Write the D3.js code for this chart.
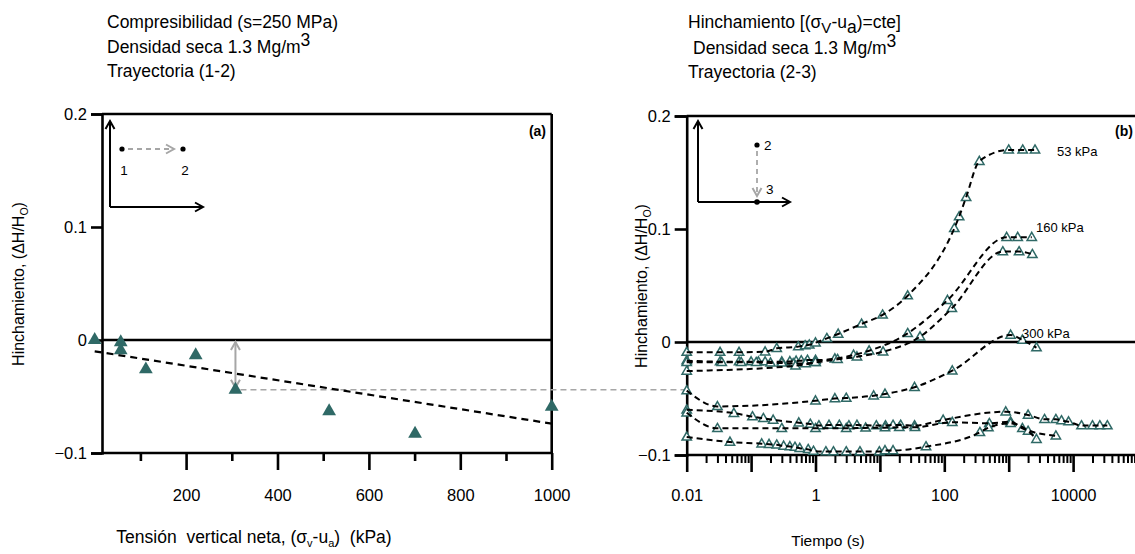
<!DOCTYPE html>
<html><head><meta charset="utf-8">
<script src="https://cdn.jsdelivr.net/npm/d3@7/dist/d3.min.js"></script>
<style>body{margin:0;background:#fff}svg{display:block}text{font-family:"Liberation Sans",Arial,sans-serif;fill:#000;white-space:pre}</style>
</head><body>
<svg id="c" width="1135" height="554"></svg>
<script>
// ---------- DATA ----------
// Panel (a): compressibility
const leftX = [0, 57, 57, 112, 221, 308, 513, 701, 1000];
const leftY = [0, -0.002, -0.009, -0.026, -0.0135, -0.044, -0.063, -0.083, -0.059];
const fitX = [0, 1000];
const fitY = [-0.010, -0.074];
const leftMajorTicks = [200, 400, 600, 800, 1000];
const leftMinorTicks = [100, 300, 500, 700, 900];
const yTicks = [-0.1, 0, 0.1, 0.2];
// Panel (b): swelling vs time
const tA = [0.01,0.033,0.065,0.165,0.25,0.54,0.69,0.8,1.0,1.5,2.25,5.2,11,27,143,170,218,350,1000,1650,2560];
const vA = [-0.009,-0.009,-0.009,-0.0086,-0.0056,-0.0041,-0.0032,-0.0025,-0.0006,0.0032,0.0071,0.016,0.024,0.041,0.1006,0.111,0.128,0.160,0.170,0.170,0.170];
const tB = [0.01,0.033,0.065,0.1,0.13,0.165,0.3,0.4,0.5,0.6,0.75,1.0,2.0,3.9,6.8,27,112,930,1380,2280];
const vB = [-0.0165,-0.0174,-0.0174,-0.0174,-0.0174,-0.0174,-0.0174,-0.0172,-0.0168,-0.0165,-0.016,-0.016,-0.0148,-0.0115,-0.0077,0.0077,0.037,0.0927,0.0927,0.0927];
const tC = [0.01,0.035,0.07,0.12,0.2,0.3,0.45,0.7,1.0,2.2,4.4,11.2,42,131,810,1450,2330];
const vC = [-0.018,-0.018,-0.018,-0.018,-0.0185,-0.0185,-0.019,-0.019,-0.018,-0.0153,-0.013,-0.0086,0.0047,0.0298,0.080,0.080,0.0776];
const tD = [0.01,0.49,1.0];
const vD = [-0.0257,-0.021,-0.018];
const tP = [0.01,0.03,1.0,2.0,3.0,8,12,34.5,133,1070,1630,2700];
const vP = [-0.043,-0.057,-0.052,-0.050,-0.0496,-0.0475,-0.046,-0.040,-0.0254,0.0062,0.0018,-0.005];
const tL1 = [0.01,0.054,0.105,0.155,0.22,0.55,0.83,1.13,1.62,2.34,3.3,4.4,8.8,12.2,16,21,34.5,96,900,2000,3600,5400,6600,8500,13500,20000,26000,34000];
const vL1 = [-0.060,-0.063,-0.066,-0.0676,-0.069,-0.0714,-0.0726,-0.074,-0.0735,-0.0735,-0.074,-0.0735,-0.074,-0.074,-0.0735,-0.0735,-0.074,-0.069,-0.0617,-0.0646,-0.0684,-0.0684,-0.0696,-0.0705,-0.074,-0.074,-0.074,-0.074];
const tL2 = [0.01,0.03,0.3,1.0,3.0,6,12,20,35,133,500,1070,1630,5400];
const vL2 = [-0.0626,-0.0764,-0.0764,-0.0764,-0.0764,-0.076,-0.0758,-0.0755,-0.0755,-0.071,-0.072,-0.0705,-0.0764,-0.083];
const tL3 = [0.01,0.047,0.146,0.19,0.25,0.32,0.40,0.48,0.57,0.77,0.93,1.45,1.9,3.0,4.9,9.8,12,16,52,357,484,1070,2000,2700];
const vL3 = [-0.084,-0.0885,-0.090,-0.0905,-0.091,-0.092,-0.0925,-0.093,-0.094,-0.095,-0.0965,-0.097,-0.097,-0.097,-0.097,-0.097,-0.096,-0.096,-0.0926,-0.080,-0.0758,-0.072,-0.0788,-0.086];
const rightMajorTicks = [0.01,0.1,1,10,100,1000,10000,100000];
const rightLabelTicks = [0.01,1,100,10000];

const seriesR = [[tA,vA],[tB,vB],[tC,vC],[tD,vD],[tP,vP],[tL1,vL1],[tL2,vL2],[tL3,vL3]];

// ---------- SCALES ----------
const svg = d3.select("#c");
const teal = "#2f6966";
const FONT = "'Liberation Sans',Arial,sans-serif";
const xL = d3.scaleLinear().domain([16, 1000]).range([102, 551.7]);
const yL = d3.scaleLinear().domain([-0.1, 0.2]).range([453, 114]);
const xR = d3.scaleLog().domain([0.01, 100000]).range([686.7, 1137.5]);
const yR = d3.scaleLinear().domain([-0.1, 0.2]).range([455, 116]);

const AX = 2.6;
function line(x1,y1,x2,y2,w,col,dash){const l=svg.append("line").attr("x1",x1).attr("y1",y1).attr("x2",x2).attr("y2",y2).attr("stroke",col||"#000").attr("stroke-width",w||AX);if(dash)l.attr("stroke-dasharray",dash);return l;}
function head(x,y,dir,col,w){
  const s=8, h=4.5; let p;
  if(dir==='up') p=[[x-h,y+s],[x,y],[x+h,y+s]];
  if(dir==='down') p=[[x-h,y-s],[x,y],[x+h,y-s]];
  if(dir==='right') p=[[x-s,y-h],[x,y],[x-s,y+h]];
  if(dir==='left') p=[[x+s,y-h],[x,y],[x+s,y+h]];
  svg.append("path").attr("d",d3.line()(p)).attr("fill","none").attr("stroke",col||"#000").attr("stroke-width",w||2);
}
function styleAxis(g,fs){g.select(".domain").attr("stroke-width",AX).attr("stroke","#000");g.selectAll(".tick line").attr("stroke-width",AX);g.selectAll("text").style("font-size",fs+"px").style("font-family",FONT);}

// ---------- PANEL (a) ----------
line(xL.range()[0], yL(0.2), xL.range()[1], yL(0.2));
line(xL.range()[1], yL(0.2), xL.range()[1], yL(-0.1));
line(xL.range()[0], yL(0), xL.range()[1], yL(0));
const gxL = svg.append("g").attr("transform",`translate(0,${yL(-0.1)})`);
gxL.call(d3.axisBottom(xL).tickValues(leftMajorTicks).tickSize(17).tickPadding(19).tickFormat(d3.format("d")));
const gxL2 = svg.append("g").attr("transform",`translate(0,${yL(-0.1)})`);
gxL2.call(d3.axisBottom(xL).tickValues(leftMinorTicks).tickSize(8).tickFormat(""));
const gyL = svg.append("g").attr("transform",`translate(${xL.range()[0]},0)`);
gyL.call(d3.axisLeft(yL).tickValues(yTicks).tickSize(11).tickPadding(4).tickFormat(d=>d===0?"0":d3.format(".1f")(d)));
styleAxis(gxL,16.5); styleAxis(gxL2,16.5); styleAxis(gyL,16.5);
gxL2.select(".domain").remove();
gxL.select(".domain").attr("d",`M${xL.range()[0]},0H${xL.range()[1]}`);

// grey dashed link line and double arrow
line(xL(308)+5, yL(-0.044), xR(0.01), yL(-0.044), 1.6, "#a6a6a6", "6,4");
line(xL(308), yL(0)+2, xL(308), yL(-0.044)-2, 2, "#a6a6a6");
head(xL(308), yL(0)+2, 'up', "#a6a6a6");
head(xL(308), yL(-0.044)-2, 'down', "#a6a6a6");

// fit line
svg.append("path").attr("d", d3.line().x((d,i)=>xL(fitX[i])).y((d,i)=>yL(fitY[i]))(fitX))
  .attr("fill","none").attr("stroke","#000").attr("stroke-width",2.2).attr("stroke-dasharray","7,5");
svg.selectAll(".pl").data(leftX).enter().append("path")
  .attr("d", d3.symbol(d3.symbolTriangle, 82))
  .attr("transform",(d,i)=>`translate(${xL(d)},${yL(leftY[i])})`)
  .attr("fill",teal);

// inset (a)
line(110,207,110,122,2); head(110,121,'up');
line(110,207,202,207,2); head(203,207,'right');
svg.append("circle").attr("cx",122).attr("cy",149).attr("r",2.6);
svg.append("circle").attr("cx",183).attr("cy",149).attr("r",2.6);
line(128,149,172,149,1.8,"#a6a6a6","5,4"); head(174,149,'right',"#a6a6a6");
svg.append("text").attr("x",124).attr("y",175).attr("text-anchor","middle").style("font-size","13.5px").text("1");
svg.append("text").attr("x",185).attr("y",175).attr("text-anchor","middle").style("font-size","13.5px").text("2");
svg.append("text").attr("x",546).attr("y",136).attr("text-anchor","end").style("font-size","14px").style("font-weight","bold").text("(a)");

// ---------- PANEL (b) ----------
line(xR.range()[0], yR(0.2), 1135, yR(0.2));
line(xR.range()[0], yR(0), 1135, yR(0));
const minorR = [];
for(let e=-2;e<5;e++){for(let k=2;k<10;k++){minorR.push(k*Math.pow(10,e));}}
const gxR = svg.append("g").attr("transform",`translate(0,${yR(-0.1)})`);
gxR.call(d3.axisBottom(xR).tickValues(rightMajorTicks).tickSize(17).tickPadding(17).tickFormat(d=>rightLabelTicks.includes(d)?(d<1?String(d):d3.format("d")(d)):""));
const gxR2 = svg.append("g").attr("transform",`translate(0,${yR(-0.1)})`);
gxR2.call(d3.axisBottom(xR).tickValues(minorR).tickSize(8).tickFormat(""));
const gyR = svg.append("g").attr("transform",`translate(${xR.range()[0]},0)`);
gyR.call(d3.axisLeft(yR).tickValues(yTicks).tickSize(12).tickPadding(4).tickFormat(d=>d===0?"0":d3.format(".1f")(d)));
styleAxis(gxR,16.5); styleAxis(gxR2,16.5); styleAxis(gyR,16.5);
gxR2.selectAll(".tick line").attr("stroke-width",2);
gxR2.select(".domain").remove();
gxR.select(".domain").attr("d",`M${xR.range()[0]},0H1135`);

const lineR = d3.line().curve(d3.curveMonotoneX);
const gMarks = svg.append("g"), gLines = svg.append("g");
seriesR.forEach(([t,v])=>{
  const pts = t.map((d,i)=>[xR(d), yR(v[i])]);
  gMarks.selectAll(null).data(pts).enter().append("path")
    .attr("d", d3.symbol(d3.symbolTriangle, 38))
    .attr("transform",d=>`translate(${d[0]},${d[1]+0.5})`)
    .attr("fill","#fff").attr("stroke",teal).attr("stroke-width",1.5);
  gLines.append("path").attr("d", lineR(pts)).attr("fill","none")
    .attr("stroke","#000").attr("stroke-width",2).attr("stroke-dasharray","6,4");
});

svg.append("text").attr("x",1057).attr("y",156).style("font-size","13px").text("53 kPa");
svg.append("text").attr("x",1036).attr("y",232).style("font-size","13px").text("160 kPa");
svg.append("text").attr("x",1022).attr("y",338).style("font-size","13px").text("300 kPa");
svg.append("text").attr("x",1133).attr("y",136).attr("text-anchor","end").style("font-size","14px").style("font-weight","bold").text("(b)");

// inset (b)
line(698,202,698,122,2); head(698,121,'up');
line(698,202,789,202,2); head(790,202,'right');
svg.append("circle").attr("cx",757).attr("cy",145).attr("r",2.6);
svg.append("circle").attr("cx",757).attr("cy",202).attr("r",2.8);
line(757,151,757,194,1.8,"#a6a6a6","5,4"); head(757,196,'down',"#a6a6a6");
svg.append("text").attr("x",764).attr("y",150).style("font-size","13.5px").text("2");
svg.append("text").attr("x",766).attr("y",194).style("font-size","13.5px").text("3");

// ---------- TITLES ----------
function title(x,y,parts,size){
  const t=svg.append("text").attr("x",x).attr("y",y).style("font-size",(size||17.5)+"px");
  parts.forEach(p=>{const s=t.append("tspan").text(p[0]); if(p[1]) s.attr("dy",p[1]); if(p[2]) s.style("font-size",p[2]+"px");});
  return t;
}
title(107,28,[["Compresibilidad (s=250 MPa)"]]);
title(107,53,[["Densidad seca 1.3 Mg/m"],["3",-7]]);
title(107,77,[["Trayectoria (1-2)"]]);
title(688,28,[["Hinchamiento [(σ"],["V",5,15],["-u",-5],["a",5],[")=cte]",-5]]);
title(693,54,[["Densidad seca 1.3 Mg/m"],["3",-7]]);
title(688,78,[["Trayectoria (2-3)"]]);

// axis titles
function ylabel(x,y){
  const t=svg.append("text").attr("transform",`translate(${x},${y}) rotate(-90)`).attr("text-anchor","middle").style("font-size","16px");
  t.append("tspan").text("Hinchamiento, (ΔH/H");
  t.append("tspan").text("O").attr("dy",4).style("font-size","10.5px");
  t.append("tspan").text(")").attr("dy",-4);
}
ylabel(24,284);
ylabel(647,286);
const xl=svg.append("text").attr("x",254).attr("y",543).attr("text-anchor","middle").style("font-size","17.5px");
xl.append("tspan").text("Tensión  vertical neta, (σ");
xl.append("tspan").text("v").attr("dy",4).style("font-size","11px");
xl.append("tspan").text("-u").attr("dy",-4);
xl.append("tspan").text("a").attr("dy",4).style("font-size","11px");
xl.append("tspan").text(")  (kPa)").attr("dy",-4);
svg.append("text").attr("x",828).attr("y",546).attr("text-anchor","middle").style("font-size","15.5px").text("Tiempo (s)");
</script>
</body></html>
